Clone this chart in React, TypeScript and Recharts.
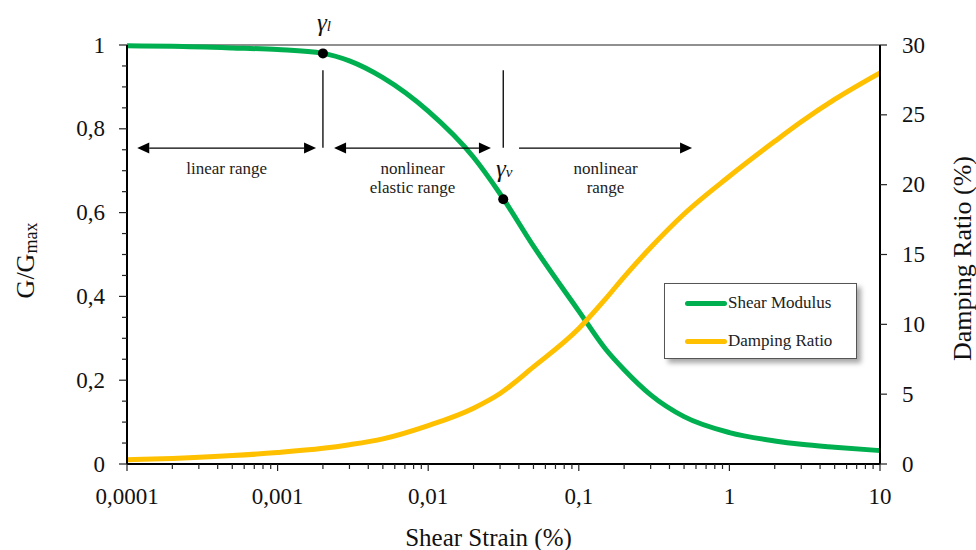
import {
  LineChart,
  Line,
  XAxis,
  YAxis,
  Legend,
  ReferenceLine,
  ReferenceDot,
} from 'recharts';

const strainPct = [
  0.0001, 0.0002, 0.0005, 0.001, 0.002, 0.003, 0.005, 0.01, 0.02, 0.03, 0.05,
  0.1, 0.15, 0.2, 0.3, 0.5, 1, 2, 3, 5, 10,
];
const shearModulus = [
  0.998, 0.997, 0.993, 0.989, 0.98, 0.962, 0.922, 0.842, 0.732, 0.645, 0.52,
  0.365, 0.275, 0.225, 0.165, 0.113, 0.075, 0.055, 0.047, 0.04, 0.032,
];
const dampingRatio = [
  0.3, 0.4, 0.6, 0.82, 1.12, 1.38, 1.8, 2.75, 4.0, 5.05, 6.95, 9.7, 11.8,
  13.4, 15.5, 17.9, 20.6, 23.1, 24.5, 26.1, 28.0,
];
const seriesNames = ['Shear Modulus', 'Damping Ratio'];

// thresholds γl and γv on the modulus curve
const thresholdStrain = [0.002, 0.0315];
const thresholdG = [0.98, 0.632];
const thresholdSub = ['l', 'v'];
const markerTop = 0.94;
const markerBottom = 0.755;

// range arrows
const arrowLevel = 0.754;
const arrowFrom = [0.000117, 0.00237, 0.0401];
const arrowTo = [0.0018, 0.0261, 0.565];
const arrowStartHead = [true, true, false];
const rangeLabels = [['linear range'], ['nonlinear', 'elastic range'], ['nonlinear', 'range']];

const majorStrainTicks = [0.0001, 0.001, 0.01, 0.1, 1, 10];
const strainTicks = majorStrainTicks.flatMap((m, i) =>
  i === majorStrainTicks.length - 1 ? [m] : [1, 2, 3, 4, 5, 6, 7, 8, 9].map((k) => m * k)
);
const gTicks = [
  0, 0.05, 0.1, 0.15, 0.2, 0.25, 0.3, 0.35, 0.4, 0.45, 0.5, 0.55, 0.6, 0.65, 0.7, 0.75, 0.8,
  0.85, 0.9, 0.95, 1,
];
const dampingTicks = [0, 5, 10, 15, 20, 25, 30];

const chartData = strainPct.map((s, i) => ({
  strain: s,
  g: shearModulus[i],
  damping: dampingRatio[i],
}));

const FONT = "'Liberation Serif', 'Times New Roman', serif";
const GREEN = '#00B050';
const ORANGE = '#FFC000';

const fmt = (v: number) => String(v).replace('.', ',');

function StrainTick({ x, y, payload }: any) {
  const major = majorStrainTicks.some((m) => Math.abs(m - payload.value) / m < 1e-6);
  return (
    <g>
      <line x1={x} x2={x} y1={y} y2={y + (major ? 7 : 5)} stroke="#222" strokeWidth={1.2} />
      {major && (
        <text x={x} y={y + 32} textAnchor="middle" dominantBaseline="central" fontSize={23} fill="#111" fontFamily={FONT}>
          {fmt(payload.value)}
        </text>
      )}
    </g>
  );
}

function GTick({ x, y, payload }: any) {
  const major = Math.round(payload.value * 100) % 20 === 0;
  return (
    <g>
      <line x1={x - (major ? 8 : 5)} x2={x} y1={y} y2={y} stroke="#222" strokeWidth={1.2} />
      {major && (
        <text x={x - 22} y={y} textAnchor="end" dominantBaseline="central" fontSize={23} fill="#111" fontFamily={FONT}>
          {fmt(payload.value)}
        </text>
      )}
    </g>
  );
}

function DampingTick({ x, y, payload }: any) {
  return (
    <g>
      <line x1={x} x2={x + 7} y1={y} y2={y} stroke="#222" strokeWidth={1.2} />
      <text x={x + 22} y={y} textAnchor="start" dominantBaseline="central" fontSize={23} fill="#111" fontFamily={FONT}>
        {payload.value}
      </text>
    </g>
  );
}

const arrowShape = (i: number) => (props: any) => {
  const { x1, x2, y1 } = props;
  const left = Math.min(x1, x2);
  const right = Math.max(x1, x2);
  const head = 12;
  const half = 5.5;
  const start = arrowStartHead[i] ? left + head : left;
  const mid = (left + right) / 2;
  return (
    <g>
      <line x1={start} x2={right - head} y1={y1} y2={y1} stroke="#000" strokeWidth={1.3} />
      {arrowStartHead[i] && (
        <polygon points={`${left},${y1} ${left + head},${y1 - half} ${left + head},${y1 + half}`} fill="#000" />
      )}
      <polygon points={`${right},${y1} ${right - head},${y1 - half} ${right - head},${y1 + half}`} fill="#000" />
      {rangeLabels[i].map((t, k) => (
        <text key={k} x={mid} y={y1 + 20 + k * 19} textAnchor="middle" dominantBaseline="central" fontSize={17} fill="#222" fontFamily={FONT}>
          {t}
        </text>
      ))}
    </g>
  );
};

const gammaLabel = (sub: string) => (props: any) => {
  const vb = props.viewBox || {};
  const cx = (vb.x ?? 0) + (vb.width ?? 0) / 2;
  const cy = (vb.y ?? 0) + (vb.height ?? 0) / 2;
  return (
    <text x={cx + 1} y={cy - 31} textAnchor="middle" dominantBaseline="central" fontSize={25} fontStyle="italic" fill="#111" fontFamily={FONT}>
      γ<tspan fontSize={15} dy={4}>{sub}</tspan>
    </text>
  );
};

function renderLegend(props: any) {
  const items = [...(props.payload || [])].sort(
    (a: any, b: any) => seriesNames.indexOf(a.value) - seriesNames.indexOf(b.value)
  );
  return (
    <div
      style={{
        width: 193,
        height: 76,
        boxSizing: 'border-box',
        border: '1px solid #555',
        background: '#fff',
        boxShadow: '4px 4px 5px rgba(0,0,0,0.35)',
        position: 'relative',
        fontFamily: FONT,
      }}
    >
      {items.map((e: any, i: number) => (
        <div
          key={i}
          style={{ position: 'absolute', left: 20, top: 9 + i * 38, height: 20, display: 'flex', alignItems: 'center' }}
        >
          <span style={{ display: 'inline-block', width: 42, height: 5, borderRadius: 3, background: e.color }} />
          <span style={{ fontSize: 17, color: '#222', marginLeft: 1 }}>{e.value}</span>
        </div>
      ))}
    </div>
  );
}

export default function App() {
  return (
    <div style={{ width: 976, height: 550, background: '#fff' }}>
      <style>{'body { margin: 0; } .recharts-surface { overflow: visible; }'}</style>
      <LineChart
        width={976}
        height={550}
        data={chartData}
        margin={{ top: 45, right: 0, bottom: 0, left: 0 }}
        style={{ fontFamily: FONT }}
      >
        <XAxis
          dataKey="strain"
          type="number"
          scale="log"
          domain={[0.0001, 10]}
          ticks={strainTicks}
          interval={0}
          tickSize={0}
          tickMargin={0}
          tick={<StrainTick />}
          axisLine={{ stroke: '#000', strokeWidth: 2 }}
          height={86}
          allowDataOverflow
          label={(p: any) => {
            const vb = p.viewBox;
            return (
              <text x={vb.x + vb.width / 2 - 15} y={vb.y + 73} textAnchor="middle" dominantBaseline="central" fontSize={25} fill="#111" fontFamily={FONT}>
                Shear Strain (%)
              </text>
            );
          }}
        />
        <YAxis
          yAxisId="left"
          domain={[0, 1]}
          ticks={gTicks}
          interval={0}
          tickSize={0}
          tickMargin={0}
          tick={<GTick />}
          axisLine={{ stroke: '#000', strokeWidth: 2 }}
          width={127}
          label={(p: any) => {
            const vb = p.viewBox;
            const cx = vb.x + 25;
            const cy = vb.y + vb.height / 2 + 6;
            return (
              <text x={cx} y={cy} transform={`rotate(-90 ${cx} ${cy})`} textAnchor="middle" dominantBaseline="central" fontSize={26} fill="#111" fontFamily={FONT}>
                G/G<tspan fontSize={18} dy={6}>max</tspan>
              </text>
            );
          }}
        />
        <YAxis
          yAxisId="right"
          orientation="right"
          domain={[0, 30]}
          ticks={dampingTicks}
          interval={0}
          tickSize={0}
          tickMargin={0}
          tick={<DampingTick />}
          axisLine={{ stroke: '#000', strokeWidth: 2 }}
          width={96}
          label={(p: any) => {
            const vb = p.viewBox;
            const cx = vb.x + 82;
            const cy = vb.y + vb.height / 2 + 4;
            return (
              <text x={cx} y={cy} transform={`rotate(-90 ${cx} ${cy})`} textAnchor="middle" dominantBaseline="central" fontSize={26} fill="#111" fontFamily={FONT}>
                Damping Ratio (%)
              </text>
            );
          }}
        />
        <ReferenceLine yAxisId="left" y={1} stroke="#222" strokeWidth={1.2} />
        <Line
          yAxisId="left"
          type="monotone"
          dataKey="g"
          name={seriesNames[0]}
          stroke={GREEN}
          strokeWidth={5}
          dot={false}
          activeDot={false}
          isAnimationActive={false}
        />
        <Line
          yAxisId="right"
          type="monotone"
          dataKey="damping"
          name={seriesNames[1]}
          stroke={ORANGE}
          strokeWidth={5}
          dot={false}
          activeDot={false}
          isAnimationActive={false}
        />
        {thresholdStrain.map((s, i) => (
          <ReferenceLine
            key={`m${i}`}
            yAxisId="left"
            segment={[
              { x: s, y: markerTop },
              { x: s, y: markerBottom },
            ]}
            stroke="#000"
            strokeWidth={1.3}
          />
        ))}
        {arrowFrom.map((s, i) => (
          <ReferenceLine
            key={`a${i}`}
            yAxisId="left"
            segment={[
              { x: s, y: arrowLevel },
              { x: arrowTo[i], y: arrowLevel },
            ]}
            shape={arrowShape(i)}
          />
        ))}
        {thresholdStrain.map((s, i) => (
          <ReferenceDot
            key={`d${i}`}
            yAxisId="left"
            x={s}
            y={thresholdG[i]}
            r={5}
            fill="#000"
            stroke="none"
            label={gammaLabel(thresholdSub[i])}
          />
        ))}
        <Legend
          layout="horizontal"
          verticalAlign="middle"
          align="center"
          content={renderLegend}
          wrapperStyle={{ left: 664, top: 283, width: 193, height: 76 }}
        />
      </LineChart>
    </div>
  );
}
